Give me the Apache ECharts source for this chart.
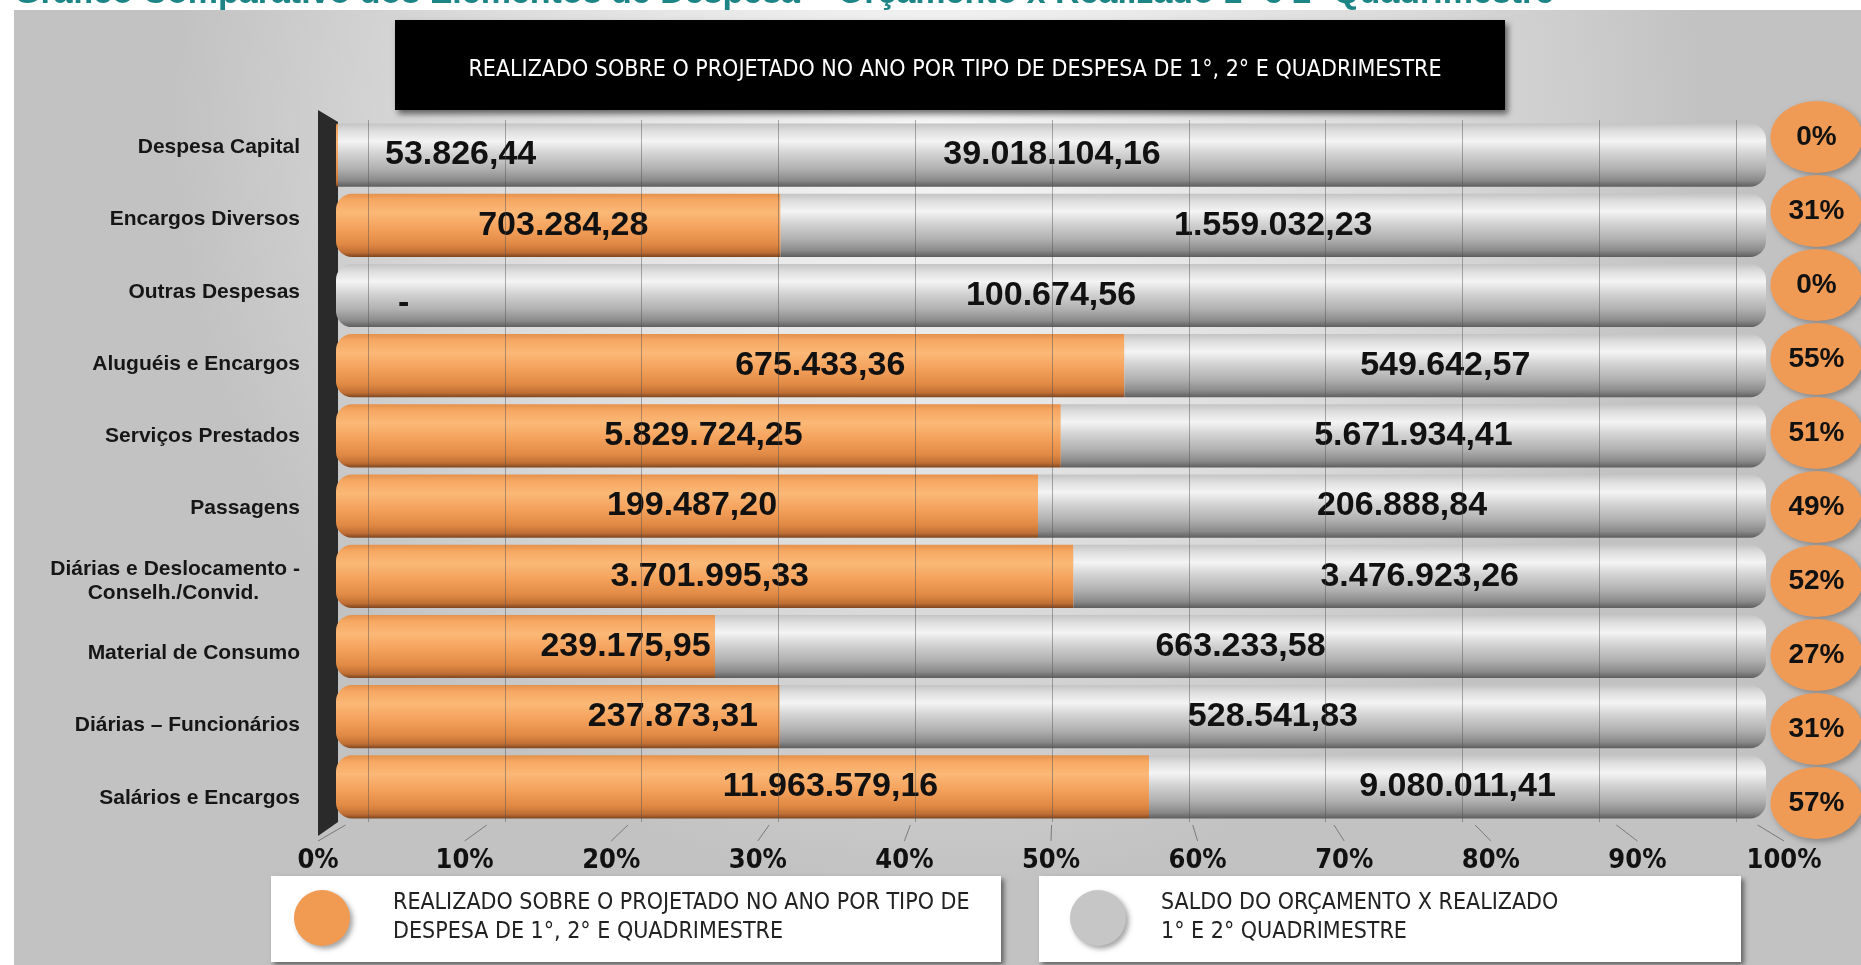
<!DOCTYPE html>
<html>
<head>
<meta charset="utf-8">
<script src="https://cdn.jsdelivr.net/npm/echarts@6/dist/echarts.min.js"></script>
<style>
  html, body { margin: 0; padding: 0; background: #fff; }
  #chart { width: 1861px; height: 965px; }
</style>
</head>
<body>
<div id="chart"></div>
<script>
// categorias (de cima para baixo)
const categorias = [
	'Despesa Capital',
	'Encargos Diversos',
	'Outras Despesas',
	'Aluguéis e Encargos',
	'Serviços Prestados',
	'Passagens',
	'Diárias e Deslocamento -\nConselh./Convid.',
	'Material de Consumo',
	'Diárias – Funcionários',
	'Salários e Encargos'
];
// realizado 1º e 2º quadrimestre
const realizado = [53826.44, 703284.28, 0, 675433.36, 5829724.25, 199487.20, 3701995.33, 239175.95, 237873.31, 11963579.16];
// saldo do orçamento x realizado
const saldo = [39018104.16, 1559032.23, 100674.56, 549642.57, 5671934.41, 206888.84, 3476923.26, 663233.58, 528541.83, 9080011.41];
// percentuais mostrados à direita
const percentuais = ['0%', '31%', '0%', '55%', '51%', '49%', '52%', '27%', '31%', '57%'];

const nomeRealizado = 'REALIZADO SOBRE O PROJETADO NO ANO POR TIPO DE\nDESPESA DE 1°, 2° E QUADRIMESTRE';
const nomeSaldo = 'SALDO DO ORÇAMENTO X REALIZADO\n1° E 2° QUADRIMESTRE';
const titulo = 'REALIZADO SOBRE O PROJETADO NO ANO POR TIPO DE DESPESA DE 1°, 2° E QUADRIMESTRE';
const tituloTopo = 'Gráfico Comparativo dos Elementos de Despesa – Orçamento x Realizado 1º e 2º Quadrimestre';

const fontSans = "'Liberation Sans', Arial, sans-serif";
const fontNarrow = "'Liberation Sans Narrow', 'Arial Narrow', 'DejaVu Sans Condensed', sans-serif";

// deslocamento horizontal dos rótulos laranja (como no original)
const orangeLabelShift = [0, 5, 0, 90, 5, 5, 5, 100, 115, 88];

function brl(v) {
	if (!v) return '-';
	const p = v.toFixed(2).split('.');
	return p[0].replace(/\B(?=(\d{3})+(?!\d))/g, '.') + ',' + p[1];
}

const total = realizado.map((v, i) => v + saldo[i]);
const shareReal = realizado.map((v, i) => v / total[i] * 100);
const shareSaldo = saldo.map((v, i) => v / total[i] * 100);

const ellipse = 'path://M0,50a50,50 0 1,0 100,0a50,50 0 1,0 -100,0z';

const orangeGrad = new echarts.graphic.LinearGradient(0, 0, 0, 1, [
	{offset: 0, color: '#e4914c'},
	{offset: 0.1, color: '#f6a862'},
	{offset: 0.3, color: '#fbb877'},
	{offset: 0.55, color: '#f4a15b'},
	{offset: 0.8, color: '#e08944'},
	{offset: 0.93, color: '#bf6e34'},
	{offset: 1, color: '#7e4620'}
]);
const grayGrad = new echarts.graphic.LinearGradient(0, 0, 0, 1, [
	{offset: 0, color: '#c4c4c4'},
	{offset: 0.12, color: '#dedede'},
	{offset: 0.28, color: '#f4f4f4'},
	{offset: 0.48, color: '#d2d2d2'},
	{offset: 0.72, color: '#b0b0b0'},
	{offset: 0.9, color: '#8a8a8a'},
	{offset: 1, color: '#5e5e5e'}
]);

let myChart = echarts.init(document.getElementById('chart'));

const decor = [
	{
		type: 'rect', id: 'painel', z: -10, silent: true,
		shape: {x: 14, y: 10, width: 1847, height: 955},
		style: {
			fill: new echarts.graphic.RadialGradient(0.5, 0.12, 0.8, [
				{offset: 0, color: '#f6f6f6'},
				{offset: 0.6, color: '#dcdcdc'},
				{offset: 1, color: '#c2c2c2'}
			])
		}
	},
	{
		type: 'text', id: 'topo', z: -12, silent: true,
		style: {
			x: 14, y: 11, text: tituloTopo, fill: '#1e8587',
			font: 'bold 34px ' + fontSans, textVerticalAlign: 'bottom'
		}
	},
	{
		type: 'rect', id: 'caixaTitulo', z: -5, silent: true,
		shape: {x: 395, y: 20, width: 1110, height: 90},
		style: {fill: '#000', shadowBlur: 6, shadowOffsetX: 3, shadowOffsetY: 4, shadowColor: 'rgba(0,0,0,0.55)'}
	},
	{
		type: 'polygon', id: 'parede', z: -5, silent: true,
		shape: {points: [[318, 110], [338, 122], [338, 822], [318, 836]]},
		style: {fill: '#2a2a2a'}
	},
	{
		type: 'rect', id: 'caixaLeg1', z: -5, silent: true,
		shape: {x: 271, y: 876, width: 730, height: 86},
		style: {fill: '#fff', shadowBlur: 5, shadowOffsetX: 3, shadowOffsetY: 3, shadowColor: 'rgba(0,0,0,0.5)'}
	},
	{
		type: 'rect', id: 'caixaLeg2', z: -5, silent: true,
		shape: {x: 1039, y: 876, width: 702, height: 86},
		style: {fill: '#fff', shadowBlur: 5, shadowOffsetX: 3, shadowOffsetY: 3, shadowColor: 'rgba(0,0,0,0.5)'}
	}
];

let option = {
	animation: false,
	backgroundColor: '#fff',
	title: {
		text: titulo,
		left: 950,
		top: 65,
		textAlign: 'center',
		textVerticalAlign: 'middle',
		textStyle: {color: '#fff', fontSize: 23, fontWeight: 'normal', fontFamily: fontNarrow}
	},
	legend: [
		{
			data: [{name: nomeRealizado, itemStyle: {color: '#f09a52', shadowBlur: 5, shadowOffsetX: 3, shadowOffsetY: 3, shadowColor: 'rgba(0,0,0,0.35)'}}],
			icon: ellipse,
			left: 294, top: 889, padding: 0,
			itemWidth: 62, itemHeight: 56,
			selectedMode: false,
			textStyle: {fontFamily: fontNarrow, fontSize: 23, color: '#222', lineHeight: 29, padding: [0, 0, 0, 35]}
		},
		{
			data: [{name: nomeSaldo, itemStyle: {color: '#c6c6c6', shadowBlur: 5, shadowOffsetX: 3, shadowOffsetY: 3, shadowColor: 'rgba(0,0,0,0.35)'}}],
			icon: ellipse,
			left: 1070, top: 889, padding: 0,
			itemWidth: 62, itemHeight: 56,
			selectedMode: false,
			textStyle: {fontFamily: fontNarrow, fontSize: 23, color: '#222', lineHeight: 29, padding: [0, 0, 0, 27]}
		}
	],
	grid: [
		{left: 336, width: 1430, top: 120, height: 702},	// barras
		{left: 318, width: 1466, top: 111, height: 723},	// eixos frontais
		{left: 1772, width: 92, top: 100, height: 740},	// percentuais
		{left: 368, width: 1368, top: 120, height: 702}	// linhas de grade ao fundo
	],
	xAxis: [
		{gridIndex: 0, type: 'value', min: 0, max: 100, show: false},
		{
			gridIndex: 1, type: 'value', min: 0, max: 100, interval: 10,
			axisLine: {show: false}, axisTick: {show: false}, splitLine: {show: false},
			axisLabel: {formatter: '{value}%', margin: 13, color: '#111', fontSize: 27, fontWeight: 'bold', fontFamily: fontNarrow}
		},
		{gridIndex: 2, type: 'category', data: ['%'], show: false},
		{
			gridIndex: 3, type: 'value', min: 0, max: 100, interval: 10, z: 5,
			axisLine: {show: false}, axisTick: {show: false}, axisLabel: {show: false},
			splitLine: {show: true, lineStyle: {color: 'rgba(80,80,80,0.45)', width: 1}}
		}
	],
	yAxis: [
		{gridIndex: 0, type: 'category', data: categorias, inverse: true, show: false},
		{
			gridIndex: 1, type: 'category', data: categorias, inverse: true,
			axisLine: {show: false}, axisTick: {show: false},
			axisLabel: {
				margin: 18, color: '#161616', fontSize: 21, fontWeight: 'bold', fontFamily: fontSans, lineHeight: 24,
				// segunda linha centrada sob a primeira
				formatter: v => v + (v.indexOf('\n') < 0 ? '' : '\u00a0\u00a0\u00a0\u00a0\u00a0\u00a0\u00a0')
			}
		},
		{gridIndex: 2, type: 'category', data: categorias, inverse: true, show: false},
		{gridIndex: 3, type: 'category', data: categorias, inverse: true, show: false}
	],
	series: [
		{
			name: nomeRealizado,
			type: 'bar',
			stack: 'total',
			xAxisIndex: 0, yAxisIndex: 0,
			barCategoryGap: '10%',
			itemStyle: {color: orangeGrad, borderRadius: [16, 0, 0, 16]},
			label: {
				show: true, position: 'inside',
				color: '#111', fontSize: 34, fontWeight: 'bold', fontFamily: fontSans,
				formatter: p => brl(realizado[p.dataIndex])
			},
			data: shareReal.map((v, i) => {
				if (v < 2) {
					return {value: v, label: {position: 'right', distance: realizado[i] ? 47 : 62, offset: realizado[i] ? [0, 0] : [0, 8]}};
				}
				return {value: v, label: {offset: [orangeLabelShift[i], 0]}};
			})
		},
		{
			name: nomeSaldo,
			type: 'bar',
			stack: 'total',
			xAxisIndex: 0, yAxisIndex: 0,
			barCategoryGap: '10%',
			itemStyle: {color: grayGrad, borderRadius: [0, 16, 16, 0]},
			label: {
				show: true, position: 'inside',
				color: '#111', fontSize: 34, fontWeight: 'bold', fontFamily: fontSans,
				formatter: p => brl(saldo[p.dataIndex])
			},
			data: shareSaldo.map((v, i) => realizado[i] ? v : {value: v, itemStyle: {borderRadius: 16}})
		},
		{
			type: 'scatter',
			xAxisIndex: 2, yAxisIndex: 2,
			symbol: ellipse,
			symbolSize: [92, 72],
			z: 6,
			itemStyle: {
				color: '#f09b55', opacity: 1,
				shadowBlur: 6, shadowOffsetX: 3, shadowOffsetY: 3, shadowColor: 'rgba(0,0,0,0.3)'
			},
			label: {
				show: true, position: 'inside',
				color: '#111', fontSize: 28, fontWeight: 'bold', fontFamily: fontSans,
				formatter: p => percentuais[p.dataIndex]
			},
			data: categorias.map((c, i) => [0, i])
		}
	],
	graphic: decor
};

myChart.setOption(option);

// traços diagonais entre a grade do fundo e os rótulos da frente
const ticks = [];
for (let v = 0; v <= 100; v += 10) {
	const xb = myChart.convertToPixel({xAxisIndex: 3}, v);
	const xf = myChart.convertToPixel({xAxisIndex: 1}, v);
	ticks.push({
		type: 'line', id: 'tick' + v, z: -4, silent: true,
		shape: {x1: xf + (xb - xf) * 0.55, y1: 825, x2: xf, y2: 841},
		style: {stroke: '#7a7a7a', lineWidth: 1}
	});
}
myChart.setOption({graphic: decor.concat(ticks)});
</script>
</body>
</html>
